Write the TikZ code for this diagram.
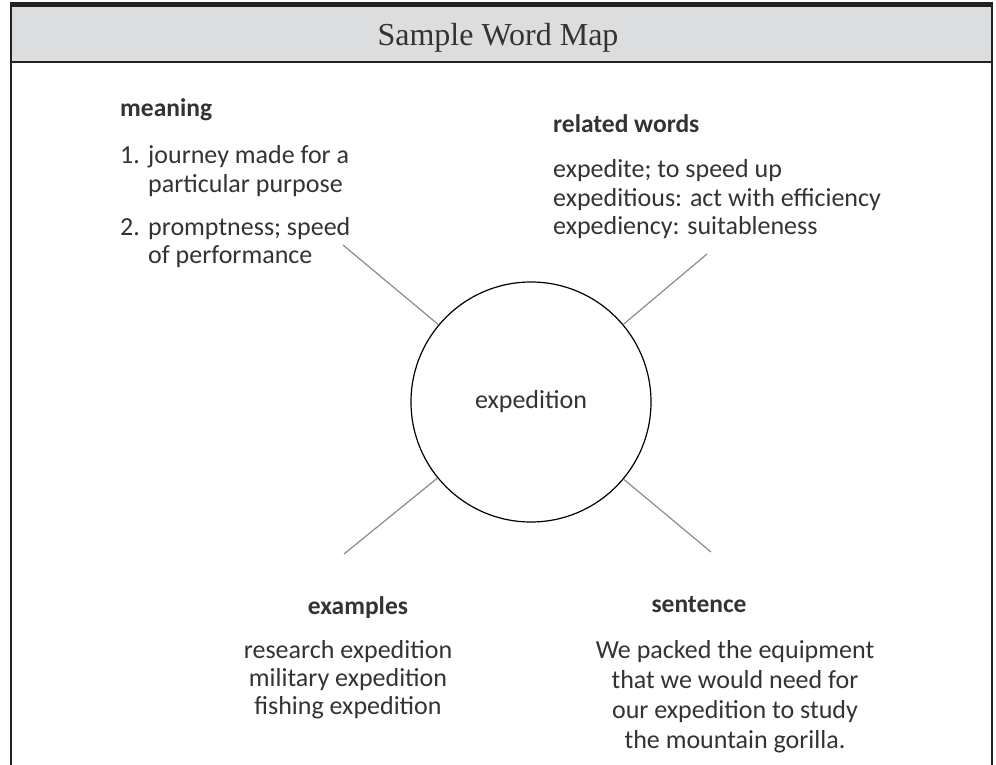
\documentclass[tikz,border=0pt]{standalone}
\usepackage{fontspec}
\setmainfont{Carlito}
\newfontfamily\titlefont{Liberation Serif}
\definecolor{band}{HTML}{DCDDDF}
\definecolor{ink}{HTML}{333333}
\definecolor{framecol}{HTML}{222222}
\definecolor{spoke}{HTML}{8C8C8C}
\begin{document}
\begin{tikzpicture}[x=1pt,y=-1pt,
  body/.style={font=\fontsize{26}{30}\selectfont, text=ink, inner sep=0pt},
  head/.style={font=\fontsize{25.5}{30}\selectfont\bfseries, text=ink, inner sep=0pt},
  spokeline/.style={draw=spoke, line width=1.2pt},
  framerule/.style={draw=framecol, line width=2pt},
]
\useasboundingbox (0,0) rectangle (996,765);
\fill[white] (0,0) rectangle (996,765);
\fill[band] (11,7) rectangle (992,62);
\fill[framecol] (10,2) rectangle (993,7);
\draw[framerule] (11,7) -- (11,765);
\draw[framerule] (992,7) -- (992,765);
\draw[framerule] (11,62) -- (992,62);
\node[anchor=base, font=\titlefont\fontsize{32}{32}\selectfont, text=ink, inner sep=0pt] (title) at (498,46) {Sample Word Map};

% centre circle
\node[circle, draw=black, line width=1.2pt, minimum size=240pt, inner sep=0pt, body] (c) at (531,402) {expedition};

% spokes
\coordinate (ul) at (343,245);
\coordinate (ur) at (707,254);
\coordinate (ll) at (344,554);
\coordinate (lr) at (711,552);
\draw[spokeline] (c) -- (ul);
\draw[spokeline] (c) -- (ur);
\draw[spokeline] (c) -- (ll);
\draw[spokeline] (c) -- (lr);

% meaning
\node[head, anchor=base west] (mh) at (120,117) {meaning};
\node[body, anchor=base west] (m1n) at (120,164) {1.};
\node[body, anchor=base west] (m1a) at (148,164) {journey made for a};
\node[body, anchor=base west] (m1b) at (148,192) {particular purpose};
\node[body, anchor=base west] (m2n) at (120,235) {2.};
\node[body, anchor=base west] (m2a) at (148,235) {promptness; speed};
\node[body, anchor=base west] (m2b) at (148,263) {of performance};

% related words
\node[head, anchor=base west] (rh) at (553,133) {related words};
\node[body, anchor=base west] (r1) at (553,178) {expedite; to speed up};
\node[body, anchor=base west] (r2) at (553,206) {expeditious: act with efficiency};
\node[body, anchor=base west] (r3) at (553,234) {expediency: suitableness};

% examples
\node[head, anchor=base] (eh) at (358,614) {examples};
\node[body, anchor=base] (e1) at (348,658) {research expedition};
\node[body, anchor=base] (e2) at (348,686) {military expedition};
\node[body, anchor=base] (e3) at (348,714) {fishing expedition};

% sentence
\node[head, anchor=base] (sh) at (699,612) {sentence};
\node[body, anchor=base] (s1) at (735,658) {We packed the equipment};
\node[body, anchor=base] (s2) at (735,688) {that we would need for};
\node[body, anchor=base] (s3) at (735,718) {our expedition to study};
\node[body, anchor=base] (s4) at (735,748) {the mountain gorilla.};
\end{tikzpicture}
\end{document}
